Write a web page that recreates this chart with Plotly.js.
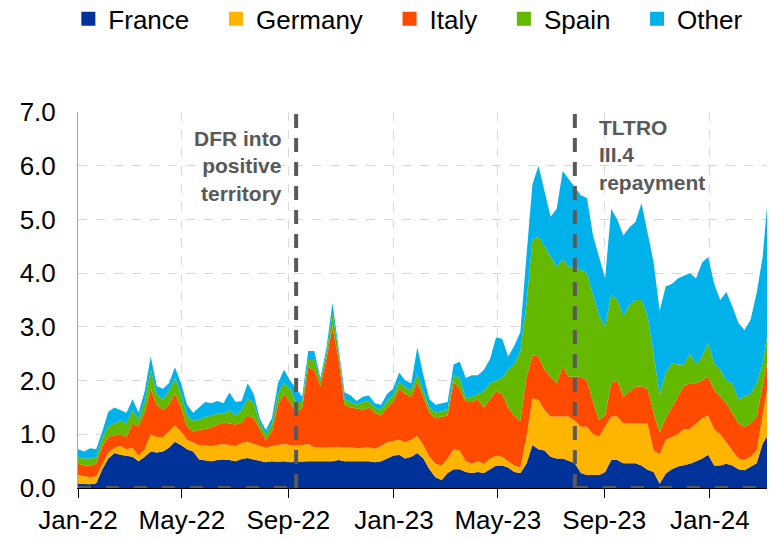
<!DOCTYPE html>
<html>
<head>
<meta charset="utf-8">
<script src="https://cdn.plot.ly/plotly-3.0.1.min.js"></script>
<style>html,body{margin:0;padding:0;background:#fff;}#chart{width:769px;height:541px;}</style>
</head>
<body>
<div id="chart"></div>
<script>
// Weekly observations (every 7 days from 1 Jan 2022) plus the last observation
const startDate = '2022-01-01';
const lastDate = '2024-03-07';
const seriesNames = ['France', 'Germany', 'Italy', 'Spain', 'Other'];
const seriesColors = ['#003299', '#FFB400', '#FF4B00', '#65B800', '#00B1EA'];

const france = [
  .08,.07,.07,.09,.35,.55,.65,.62,.60,.58,
  .50,.58,.68,.66,.68,.75,.86,.80,.72,.68,
  .53,.52,.50,.52,.53,.52,.50,.54,.56,.53,
  .50,.48,.50,.49,.50,.48,.49,.50,.50,.50,
  .50,.50,.50,.52,.50,.50,.50,.51,.50,.48,
  .50,.55,.60,.62,.55,.58,.65,.55,.35,.20,
  .15,.28,.35,.35,.30,.28,.30,.28,.35,.42,
  .42,.38,.30,.28,.45,.80,.72,.70,.58,.55,
  .55,.50,.46,.28,.24,.24,.24,.30,.52,.52,
  .46,.46,.46,.42,.34,.30,.08,.27,.35,.40,
  .42,.45,.50,.55,.62,.42,.42,.45,.42,.35,
  .33,.40,.46,.83,.96];
const germany = [
  .16,.15,.13,.13,.10,.11,.10,.16,.12,.17,
  .10,.14,.32,.29,.27,.30,.31,.25,.18,.17,
  .27,.27,.28,.28,.29,.28,.28,.30,.30,.29,
  .28,.27,.28,.31,.32,.32,.31,.30,.32,.26,
  .26,.25,.26,.25,.25,.26,.24,.24,.26,.25,
  .28,.30,.28,.28,.30,.32,.32,.25,.23,.25,
  .27,.27,.37,.35,.20,.17,.20,.17,.20,.18,
  .16,.12,.12,.10,.50,.87,.92,.75,.75,.78,
  .78,.83,.79,.86,.90,.76,.72,.85,.81,.81,
  .74,.74,.74,.78,.86,.40,.55,.63,.60,.60,
  .68,.65,.70,.75,.73,.68,.58,.40,.28,.20,
  .19,.18,.24,.50,.87];
const italy = [
  .21,.20,.22,.23,.33,.29,.23,.22,.23,.45,
  .55,.68,.85,.60,.50,.50,.59,.45,.25,.20,
  .28,.31,.34,.38,.40,.40,.40,.38,.49,.48,
  .32,.15,.27,.75,.93,.80,.60,.70,1.43,1.44,
  1.14,1.65,2.24,1.63,.80,.74,.74,.70,.74,.67,
  .57,.65,.72,.95,.90,.80,1.01,.90,.82,.85,
  .90,.80,1.26,1.15,1.10,1.15,1.15,1.05,1.10,1.20,
  1.17,1.00,.93,.87,1.10,.80,.81,.75,.74,.62,
  .93,.74,.82,.93,.86,.60,.31,.20,.62,.67,
  .50,.60,.69,.69,.65,.70,.40,.40,.55,.70,
  .80,.85,.75,.70,.72,.73,.70,.73,.69,.65,
  .62,.62,.63,.62,.49];
const spain = [
  .12,.13,.13,.12,.14,.20,.22,.25,.25,.25,
  .13,.20,.35,.20,.20,.25,.29,.25,.20,.20,
  .19,.22,.23,.20,.16,.25,.17,.23,.30,.30,
  .10,.10,.13,.20,.20,.25,.20,.10,.15,.20,
  .10,.10,.25,.15,.10,.10,.07,.15,.12,.10,
  .10,.12,.12,.13,.13,.12,.14,.10,.10,.10,
  .10,.10,.12,.20,.07,.10,.10,.30,.30,.20,
  .30,.70,.95,1.30,1.35,2.15,2.23,2.30,2.23,2.17,
  1.99,2.05,2.05,1.99,2.00,2.00,1.93,1.65,1.65,1.50,
  1.50,1.60,1.61,1.61,1.35,1.10,.70,.85,.82,.60,
  .40,.55,.35,.45,.63,.49,.50,.42,.56,.45,
  .56,.56,.62,.37,.50];
const other = [
  .15,.13,.19,.15,.13,.27,.30,.20,.20,.20,
  .12,.20,.25,.15,.20,.15,.20,.20,.20,.15,
  .23,.28,.23,.24,.20,.33,.25,.17,.30,.15,
  .10,.08,.12,.20,.25,.15,.25,.10,.15,.15,
  .05,.10,.20,.10,.13,.12,.07,.10,.10,.08,
  .10,.13,.13,.17,.12,.13,.50,.30,.15,.15,
  .16,.15,.20,.30,.38,.40,.35,.40,.45,.80,
  .73,.25,.35,.35,.90,1.03,1.32,1.05,.75,1.08,
  1.65,1.63,1.48,1.39,1.40,1.10,1.10,.90,1.60,1.50,
  1.50,1.45,1.45,1.80,1.55,1.70,1.57,1.60,1.48,1.60,
  1.65,1.50,1.60,1.75,1.60,1.48,1.30,1.65,1.43,1.42,
  1.24,1.37,1.68,1.98,2.42];

const tickVals = ['2022-01-01','2022-05-01','2022-09-01','2023-01-01','2023-05-01','2023-09-01','2024-01-01'];
const tickText = ['Jan-22','May-22','Sep-22','Jan-23','May-23','Sep-23','Jan-24'];
const eventDates = ['2022-09-10', '2023-07-29'];
const eventLabels = ['<b>DFR into<br>positive<br>territory</b>', '<b>TLTRO<br>III.4<br>repayment</b>'];

// build the weekly date axis
const dates = [];
(function () {
  const d0 = new Date(startDate + 'T00:00:00Z');
  for (let k = 0; k < france.length - 1; k++) {
    const d = new Date(d0.getTime() + k * 7 * 86400000);
    dates.push(d.toISOString().slice(0, 10));
  }
  dates.push(lastDate);
})();

const values = [france, germany, italy, spain, other];
const FONT = 'Liberation Sans, Arial, sans-serif';
const traces = [];
values.forEach((v, i) => {
  traces.push({
    type: 'scatter', mode: 'lines', x: dates, y: v, stackgroup: 'one',
    name: seriesNames[i], line: {width: 0, color: seriesColors[i]},
    fillcolor: seriesColors[i], showlegend: false, hoverinfo: 'skip'
  });
});
values.forEach((v, i) => {
  traces.push({
    type: 'scatter', mode: 'markers', x: [null], y: [null],
    name: seriesNames[i] + '\u00a0\u00a0\u00a0',
    marker: {symbol: 'square', size: 14, color: seriesColors[i]},
    showlegend: true, hoverinfo: 'skip'
  });
});

const dashGray = '#595959';
const layout = {
  width: 769, height: 541,
  margin: {l: 78, r: 2, t: 112, b: 53, autoexpand: false},
  paper_bgcolor: '#fff', plot_bgcolor: '#fff',
  font: {family: FONT, size: 26, color: '#000'},
  showlegend: true,
  legend: {orientation: 'h', traceorder: 'normal', x: -0.014, xanchor: 'left', y: 1.310, yanchor: 'top',
           font: {family: FONT, size: 26, color: '#000'}, itemclick: false, bgcolor: 'rgba(0,0,0,0)'},
  xaxis: {
    type: 'date', range: [startDate, lastDate],
    tickvals: tickVals, ticktext: tickText,
    showline: true, linecolor: '#000', linewidth: 1,
    ticks: 'outside', ticklen: 9, tickcolor: '#000', tickwidth: 1,
    showgrid: true, gridcolor: '#d9d9d9', griddash: 'dash', gridwidth: 1,
    zeroline: false, tickfont: {family: FONT, size: 26, color: '#000'}
  },
  xaxis2: {
    type: 'date', range: [startDate, lastDate], overlaying: 'x', anchor: 'y',
    tickvals: tickVals, showticklabels: false,
    ticks: 'inside', ticklen: 6, tickcolor: '#000', tickwidth: 1,
    showgrid: false, showline: false, zeroline: false
  },
  yaxis: {
    range: [0, 7], dtick: 1, tick0: 0, tickformat: '.1f',
    showline: true, linecolor: '#a6a6a6', linewidth: 1,
    ticks: '', ticklabelstandoff: 16,
    showgrid: true, gridcolor: '#d9d9d9', griddash: 'dash', gridwidth: 1,
    zeroline: false, tickfont: {family: FONT, size: 26, color: '#000'}
  },
  shapes: [
    {type: 'line', xref: 'x', yref: 'y', x0: eventDates[0], x1: eventDates[0], y0: 0, y1: 7,
     line: {color: dashGray, width: 4, dash: '14px,10px'}, layer: 'above'},
    {type: 'line', xref: 'x', yref: 'y', x0: eventDates[1], x1: eventDates[1], y0: 0, y1: 7,
     line: {color: dashGray, width: 4, dash: '14px,10px'}, layer: 'above'},
    {type: 'line', xref: 'x', yref: 'y', x0: startDate, x1: eventDates[0], y0: 0, y1: 0,
     line: {color: dashGray, width: 4, dash: '13px,15px'}, layer: 'above'},
    {type: 'line', xref: 'x', yref: 'y', x0: eventDates[1], x1: lastDate, y0: 0, y1: 0,
     line: {color: dashGray, width: 4, dash: '13px,15px'}, layer: 'above'}
  ],
  annotations: [
    {xref: 'x', yref: 'y', x: eventDates[0], y: 6.0, text: eventLabels[0], showarrow: false,
     xanchor: 'right', yanchor: 'middle', align: 'right', xshift: -12,
     font: {family: FONT, size: 21, color: dashGray}},
    {xref: 'x', yref: 'y', x: eventDates[1], y: 6.2, text: eventLabels[1], showarrow: false,
     xanchor: 'left', yanchor: 'middle', align: 'left', xshift: 22,
     font: {family: FONT, size: 21, color: dashGray}}
  ]
};

Plotly.newPlot('chart', traces, layout, {displayModeBar: false, staticPlot: true});
</script>
</body>
</html>
